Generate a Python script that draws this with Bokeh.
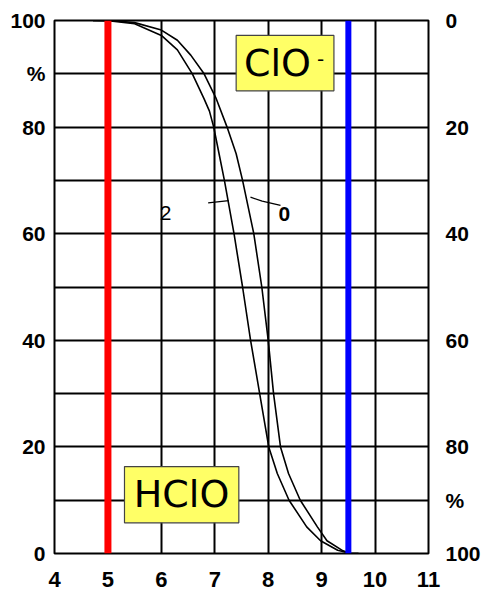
from bokeh.plotting import figure
from bokeh.models import Range1d, FixedTicker, LinearAxis, Span, Grid
from bokeh.core.properties import value
from bokeh.embed import file_html
from bokeh.resources import INLINE

# --- data ---
ph_a = [4.72, 5.05, 5.5, 6.0, 6.3, 6.58, 6.8, 6.9, 6.98, 7.08, 7.18, 7.36, 7.52, 7.67, 7.84, 8.01, 8.17, 8.39, 8.72, 8.98, 9.3, 9.55, 9.69]
hclo_a = [100, 99.9, 99.4, 97.2, 94.5, 90, 85.3, 83, 80, 75, 70, 60, 50, 40, 30, 20, 15, 10, 5, 2.4, 0.6, 0, 0]
ph_b = [4.72, 5.05, 5.5, 6.0, 6.3, 6.55, 6.8, 7.02, 7.23, 7.4, 7.52, 7.73, 7.88, 8.00, 8.10, 8.23, 8.38, 8.60, 8.92, 9.1, 9.4, 9.55, 9.69]
hclo_b = [100, 100, 99.6, 98.2, 96.3, 93.5, 90, 85.5, 80, 75, 70, 60, 50, 40, 30, 20, 15, 10, 5, 2.4, 0.5, 0, 0]

x_ticks = [4, 5, 6, 7, 8, 9, 10, 11]
x_labels = ["4", "5", "6", "7", "8", "9", "10", "11"]
left_ticks = [0, 20, 40, 60, 80, 90, 100]
left_labels = ["0", "20", "40", "60", "80", "%", "100"]
right_ticks = [0, 10, 20, 40, 60, 80, 100]
right_labels = ["100", "%", "80", "60", "40", "20", "0"]

p = figure(width=484, height=593, x_range=Range1d(4, 11), y_range=Range1d(0, 100),
           output_backend="svg", toolbar_location=None,
           min_border_left=54, min_border_right=56, min_border_top=20, min_border_bottom=40)
p.background_fill_color = "white"
p.border_fill_color = "white"
p.outline_line_color = "black"
p.outline_line_width = 2

def style_axis(ax, size, standoff):
    ax.axis_line_color = None
    ax.major_tick_line_color = None
    ax.minor_tick_line_color = None
    ax.major_tick_out = 0
    ax.major_tick_in = 0
    ax.minor_tick_out = 0
    ax.minor_tick_in = 0
    ax.major_label_text_font = "Liberation Sans"
    ax.major_label_text_font_style = "bold"
    ax.major_label_text_font_size = size
    ax.major_label_text_color = "black"
    ax.major_label_standoff = standoff

p.xaxis.ticker = FixedTicker(ticks=x_ticks)
p.xaxis.major_label_overrides = dict(zip(x_ticks, x_labels))
style_axis(p.xaxis[0], "22px", 18)

p.yaxis.ticker = FixedTicker(ticks=left_ticks)
p.yaxis.major_label_overrides = dict(zip(left_ticks, left_labels))
style_axis(p.yaxis[0], "21px", 9)

ra = LinearAxis(ticker=FixedTicker(ticks=right_ticks),
                major_label_overrides=dict(zip(right_ticks, right_labels)))
style_axis(ra, "21px", 17)
p.add_layout(ra, "right")

p.xgrid.visible = False
p.ygrid.visible = False
p.add_layout(Grid(dimension=0, ticker=FixedTicker(ticks=x_ticks),
                  grid_line_color="black", grid_line_width=2, grid_line_alpha=1))
p.add_layout(Grid(dimension=1, ticker=FixedTicker(ticks=list(range(0, 101, 10))),
                  grid_line_color="black", grid_line_width=2, grid_line_alpha=1))

p.line(ph_a, hclo_a, line_color="black", line_width=1.6)
p.line(ph_b, hclo_b, line_color="black", line_width=1.6)

p.add_layout(Span(location=5, dimension="height", line_color="#FF0000", line_width=7))
p.add_layout(Span(location=9.5, dimension="height", line_color="#0000FF", line_width=6))

# label boxes
p.quad(left=[5.31, 7.40], right=[7.45, 9.23], bottom=[5.76, 86.8], top=[16.3, 97.2],
       fill_color="#FFFF66", line_color="#444444", line_width=1.2)
p.text(x=[6.377, 8.174], y=[11.1, 92.1], text=["HClO", "ClO"],
       text_font=value("DejaVu Sans"), text_font_size="38px",
       text_align="center", text_baseline="middle", text_color="black")
p.text(x=[8.98], y=[92.8], text=["-"], text_font=value("DejaVu Sans"),
       text_font_size="20px", text_align="center", text_baseline="middle", text_color="black")

# curve labels and leaders
p.line([6.876, 7.262], [65.8, 66.2], line_color="black", line_width=1.3)
p.line([7.668, 7.887, 8.23], [66.85, 66.1, 65.3], line_color="black", line_width=1.3)
p.text(x=[6.08], y=[63.9], text=["2"], text_font=value("Liberation Sans"),
       text_font_size="21px", text_align="center", text_baseline="middle", text_color="black")
p.text(x=[8.30], y=[63.7], text=["0"], text_font=value("Liberation Sans"), text_font_style="bold",
       text_font_size="21px", text_align="center", text_baseline="middle", text_color="black")

open("out.html", "w").write(file_html(p, INLINE))
